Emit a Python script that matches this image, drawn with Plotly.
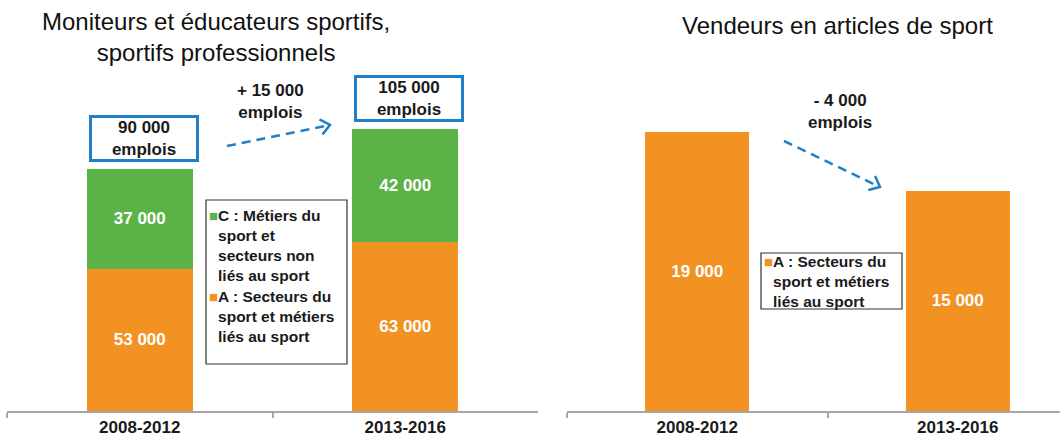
import math
import plotly.graph_objects as go

# ---------------- data ----------------
periods = ["2008-2012", "2013-2016"]
moniteurs_A = [53000, 63000]   # A : Secteurs du sport et métiers liés au sport
moniteurs_C = [37000, 42000]   # C : Métiers du sport et secteurs non liés au sport
vendeurs_A = [19000, 15000]

title_left = "Moniteurs et éducateurs sportifs,<br>sportifs professionnels"
title_right = "Vendeurs en articles de sport"
legend_C = ["C : Métiers du", "sport et", "secteurs non", "liés au sport"]
legend_A = ["A : Secteurs du", "sport et métiers", "liés au sport"]

# ---------------- style ----------------
W, H = 1060, 439
ORANGE = "#f29223"
GREEN = "#5bb247"
BLUE = "#1f80c8"
AXIS = "#a6a6a6"
FONT = "Liberation Sans, Arial, sans-serif"


def P(x, y):
    return x / W, 1 - y / H


def fmt(v):
    return f"{v:,}".replace(",", " ")


def signed(v):
    return ("+ " if v > 0 else "- ") + fmt(abs(v))


fig = go.Figure()

bar_common = dict(
    width=0.4,
    texttemplate="%{y:,.0f}",
    textposition="inside",
    insidetextanchor="middle",
    textfont=dict(family=FONT, size=17, color="white", weight="bold"),
    marker_line_width=0,
    showlegend=False,
    hoverinfo="skip",
)
fig.add_trace(go.Bar(x=periods, y=moniteurs_A, marker_color=ORANGE, xaxis="x", yaxis="y", **bar_common))
fig.add_trace(go.Bar(x=periods, y=moniteurs_C, marker_color=GREEN, xaxis="x", yaxis="y", **bar_common))
fig.add_trace(go.Bar(x=periods, y=vendeurs_A, marker_color=ORANGE, xaxis="x2", yaxis="y2", **bar_common))

axis_bottom, axis_top = 411, 80
ydom = [1 - axis_bottom / H, 1 - axis_top / H]
left_px = (7, 538)
right_px = (567, 1060)
slot_r = 260.5

xcommon = dict(
    type="category",
    showline=True, linecolor=AXIS, linewidth=1.5,
    ticks="outside", ticklen=5, tickcolor=AXIS, tickwidth=1.5,
    tickson="boundaries",
    showgrid=False, zeroline=False,
    tickfont=dict(family=FONT, size=17, color="#1a1a1a", weight="bold"),
    fixedrange=True,
)
fig.update_layout(
    xaxis=dict(domain=[left_px[0] / W, left_px[1] / W], range=[-0.5, 1.5], anchor="y", **xcommon),
    xaxis2=dict(domain=[right_px[0] / W, 1], range=[-0.5, -0.5 + (right_px[1] - right_px[0]) / slot_r],
                anchor="y2", **xcommon),
    yaxis=dict(domain=ydom, range=[0, 331 * 372], visible=False, fixedrange=True),
    yaxis2=dict(domain=ydom, range=[0, 331 * 68.1], visible=False, fixedrange=True),
)

annotations = []
shapes = []

# titles
tx, ty = P(216, 37)
annotations.append(dict(xref="paper", yref="paper", x=tx, y=ty, text=title_left, showarrow=False,
                        font=dict(family=FONT, size=24, color="#111"), xanchor="center", yanchor="middle"))
tx, ty = P(837, 25)
annotations.append(dict(xref="paper", yref="paper", x=tx, y=ty, text=title_right, showarrow=False,
                        font=dict(family=FONT, size=24, color="#111"), xanchor="center", yanchor="middle"))

# total boxes
totals = [a + c for a, c in zip(moniteurs_A, moniteurs_C)]
for i, (p, t) in enumerate(zip(periods, totals)):
    annotations.append(dict(
        xref="x", yref="y", x=p, y=t, yanchor="bottom", xanchor="center",
        yshift=7, xshift=4,
        text=f"{fmt(t)}<br>emplois", showarrow=False,
        font=dict(family=FONT, size=17, color="#1a1a1a", weight="bold"),
        bordercolor=BLUE, borderwidth=3, borderpad=0, bgcolor="white",
        width=104, height=41,
    ))

# evolution texts
diff_left = totals[1] - totals[0]
diff_right = vendeurs_A[1] - vendeurs_A[0]
for (cx, cy), d in [((270, 101), diff_left), ((840, 112), diff_right)]:
    ax_, ay_ = P(cx, cy)
    annotations.append(dict(xref="paper", yref="paper", x=ax_, y=ay_, xanchor="center", yanchor="middle",
                            text=f"{signed(d)}<br>emplois", showarrow=False,
                            font=dict(family=FONT, size=17, color="#1a1a1a", weight="bold")))


# dashed arrows
def arrow(x0, y0, x1, y1):
    dx, dy = x1 - x0, y1 - y0
    L = math.hypot(dx, dy)
    ux, uy = dx / L, dy / L
    a0 = P(x0, y0)
    a1 = P(x1 - ux * 2, y1 - uy * 2)
    shapes.append(dict(type="line", xref="paper", yref="paper", x0=a0[0], y0=a0[1], x1=a1[0], y1=a1[1],
                       line=dict(color=BLUE, width=2.5, dash="9px,6px")))
    ang = math.radians(40)
    arm = 12
    pts = []
    for s in (1, -1):
        c, sn = math.cos(s * ang), math.sin(s * ang)
        bx = -(ux * c - uy * sn) * arm
        by = -(ux * sn + uy * c) * arm
        pts.append((x1 + bx, y1 + by))
    path = "M {} {} L {} {} L {} {}".format(*P(*pts[0]), *P(x1, y1), *P(*pts[1]))
    shapes.append(dict(type="path", xref="paper", yref="paper", path=path,
                       line=dict(color=BLUE, width=2.5)))


arrow(227, 146, 330, 125)
arrow(784, 141, 880, 187)


# legends (boxes + entries)
def legend_box(x0, y0, x1, y1):
    p0, p1 = P(x0, y0), P(x1, y1)
    shapes.append(dict(type="rect", xref="paper", yref="paper", x0=p0[0], y0=p1[1], x1=p1[0], y1=p0[1],
                       line=dict(color="#333", width=1.2), fillcolor="white", layer="above"))


def legend_entry(x, ytop, color, lines):
    sq = '<span style="font-size:15px;color:{}">■</span>'
    parts = [sq.format(color) + lines[0]] + [sq.format("rgba(0,0,0,0)") + ln for ln in lines[1:]]
    px_, py_ = P(x, ytop)
    annotations.append(dict(xref="paper", yref="paper", x=px_, y=py_, xanchor="left", yanchor="top",
                            align="left", text="<br>".join(parts), showarrow=False, borderpad=0,
                            font=dict(family=FONT, size=15.5, color="#1a1a1a", weight="bold")))


legend_box(206, 200, 347, 364)
legend_entry(208, 206, GREEN, legend_C)
legend_entry(208, 287, ORANGE, legend_A)

legend_box(761, 253, 902, 309)
legend_entry(763, 252, ORANGE, legend_A)

fig.update_layout(
    width=W, height=H,
    margin=dict(l=0, r=0, t=0, b=0),
    paper_bgcolor="white", plot_bgcolor="white",
    barmode="stack",
    separators=", ",
    showlegend=False,
    annotations=annotations,
    shapes=shapes,
    font=dict(family=FONT),
)

fig.write_html(
    "out.html",
    config={"displayModeBar": False},
    post_script="document.body.style.margin='0';document.body.style.overflow='hidden';",
)
